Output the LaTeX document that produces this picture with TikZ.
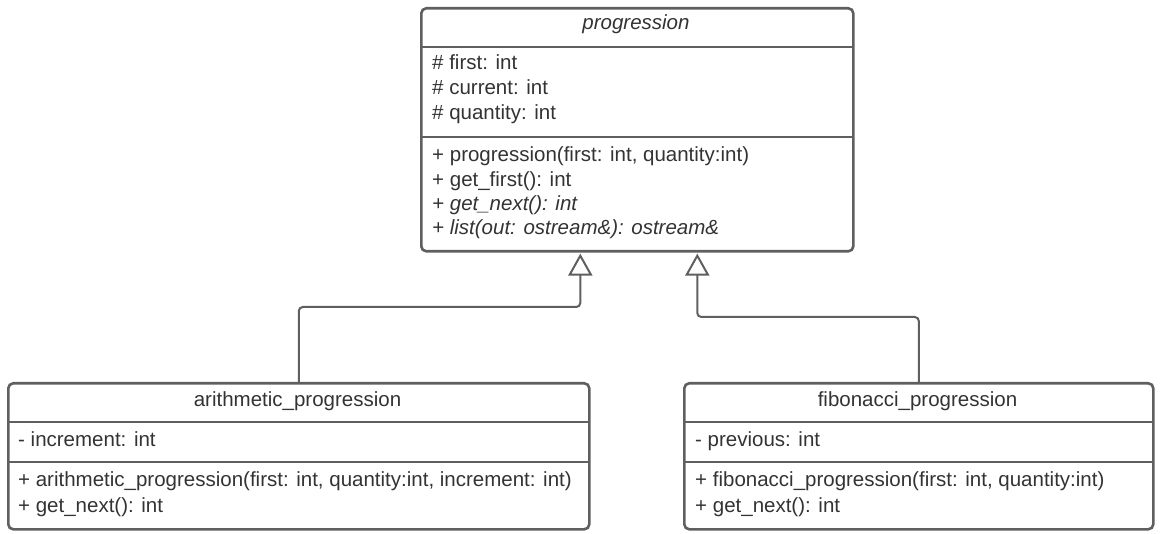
\documentclass[tikz,border=0pt]{standalone}
\usepackage{fontspec}
\setmainfont{Liberation Sans}
\usetikzlibrary{arrows.meta}
\definecolor{linegray}{HTML}{5F5F5F}
\definecolor{textgray}{HTML}{333333}
\tikzset{
  classbox/.style={draw=linegray, line width=2.6pt, rounded corners=5pt, fill=none,
    inner sep=0pt, anchor=north west},
  divider/.style={draw=linegray, line width=2.6pt},
  umltext/.style={inner sep=0pt, text=textgray, font=\fontsize{20.5}{24.5}\selectfont,
    anchor=base west},
  umltitle/.style={umltext, anchor=base},
  inherit/.style={draw=linegray, line width=2pt, rounded corners=4pt,
    -{Triangle[open, length=22pt, width=24pt, line width=2pt]}},
}
\begin{document}
\begin{tikzpicture}[x=1pt,y=-1pt]
\useasboundingbox (0,0) rectangle (1160,534);
% progression
\node[classbox, minimum width=432pt, minimum height=243pt] (prog) at (420,7) {};
\draw[divider] (420,47) -- (852,47);
\draw[divider] (420,137) -- (852,137);
\node[umltitle] (progt) at (636,30) {\itshape progression};
\node[umltext] (proga1) at (432,70) {\# first: int};
\node[umltext] (proga2) at (432,95) {\# current: int};
\node[umltext] (proga3) at (432,120) {\# quantity: int};
\node[umltext] (progm1) at (432,162) {+ progression(first: int, quantity:int)};
\node[umltext] (progm2) at (432,187) {+ get\_first(): int};
\node[umltext] (progm3) at (432,211) {\itshape + get\_next(): int};
\node[umltext] (progm4) at (432,235) {\itshape + list(out: ostream\&): ostream\&};
% arithmetic
\node[classbox, minimum width=581pt, minimum height=146pt] (arith) at (7,382) {};
\draw[divider] (7,422) -- (588,422);
\draw[divider] (7,462) -- (588,462);
\node[umltitle] (aritht) at (297.5,407) {arithmetic\_progression};
\node[umltext] (aritha1) at (18,447) {- increment: int};
\node[umltext] (arithm1) at (18,487) {+ arithmetic\_progression(first: int, quantity:int, increment: int)};
\node[umltext] (arithm2) at (18,512) {+ get\_next(): int};
% fibonacci
\node[classbox, minimum width=469pt, minimum height=146pt] (fib) at (683,382) {};
\draw[divider] (683,422) -- (1152,422);
\draw[divider] (683,462) -- (1152,462);
\node[umltitle] (fibt) at (917.5,407) {fibonacci\_progression};
\node[umltext] (fiba1) at (695,447) {- previous: int};
\node[umltext] (fibm1) at (695,487) {+ fibonacci\_progression(first: int, quantity:int)};
\node[umltext] (fibm2) at (695,512) {+ get\_next(): int};
% connectors
\coordinate (tipA) at ([xshift=-57pt,yshift=-1pt]prog.south);
\coordinate (tipB) at ([xshift=60pt,yshift=-1pt]prog.south);
\draw[inherit] (arith.north) -- ++(0,-75) -| (tipA);
\draw[inherit] (fib.north) -- ++(0,-65) -| (tipB);
\end{tikzpicture}
\end{document}
